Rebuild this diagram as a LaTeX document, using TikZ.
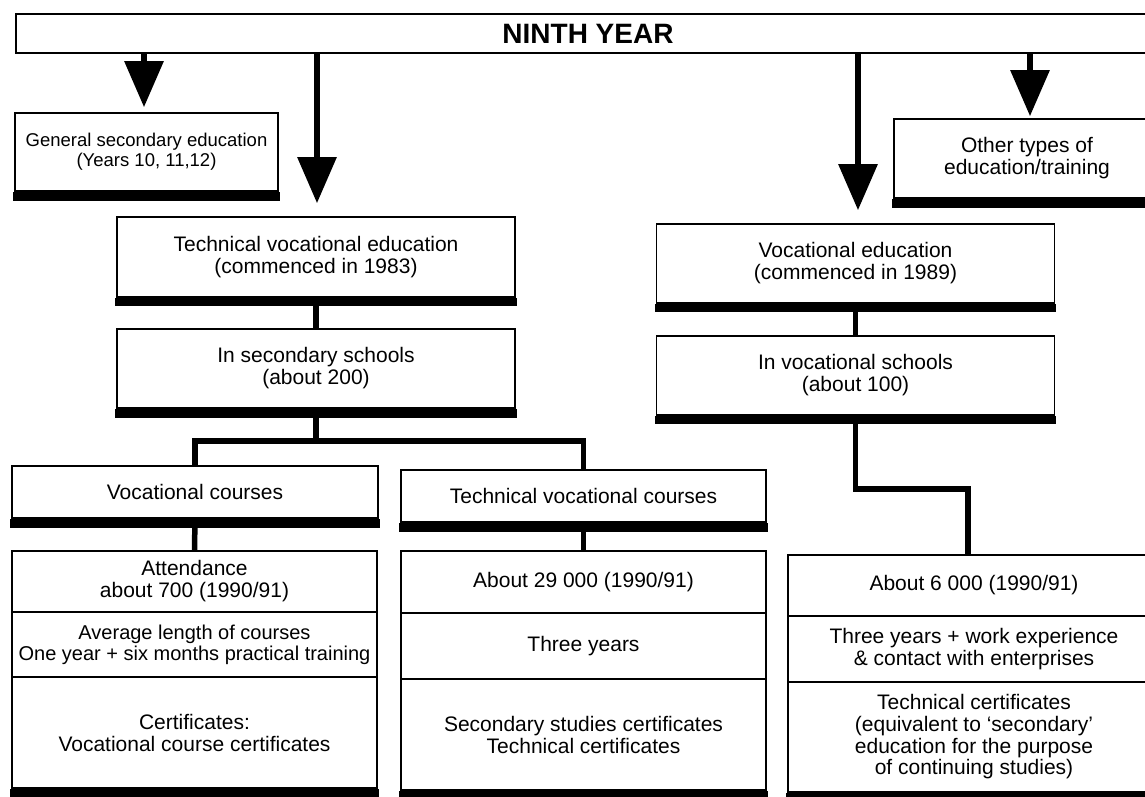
\documentclass[tikz,border=0pt]{standalone}
\usepackage{fontspec}
\setmainfont{Liberation Sans}
\usetikzlibrary{arrows.meta}
\newcommand\bandunder[2][9]{\fill ([xshift=-0.8pt]#2.south west) rectangle ([xshift=0.8pt,yshift=-#1pt]#2.south east);}
\begin{document}
\begin{tikzpicture}[x=1pt,y=-1pt,
  box/.style={draw, line width=1.6pt, inner sep=0pt, align=center,
    font=\fontsize{21}{22}\selectfont},
  conn/.style={line width=5.5pt},
  bigarrow/.style={line width=6pt, -{Triangle[width=38pt,length=46pt]}}]
\useasboundingbox (0,0) rectangle (1145,797);
\clip (0,0) rectangle (1145,797);
\fill[white] (0,0) rectangle (1145,797);

% top bar
\node[box, minimum width=1144pt, minimum height=39pt,
  font=\bfseries\fontsize{28}{30}\selectfont] (top) at (588,33.5) {NINTH YEAR};

% second level
\node[box, minimum width=263pt, minimum height=78pt,
  font=\fontsize{18.5}{20}\selectfont] (gen) at (146.5,152)
  {General secondary education\\(Years 10, 11,12)};
\node[box, minimum width=266pt, minimum height=79pt] (oth) at (1027,158.5)
  {Other types of\\education/training};

% left branch
\node[box, minimum width=398pt, minimum height=80pt] (tv) at (316,257)
  {Technical vocational education\\(commenced in 1983)};
\node[box, minimum width=398pt, minimum height=79pt] (ss) at (316,368.5)
  {In secondary schools\\(about 200)};
\node[box, minimum width=366pt, minimum height=52pt] (vc) at (195,492)
  {Vocational courses};
\node[box, minimum width=365pt, minimum height=52pt] (tc) at (583.5,496)
  {Technical vocational courses};

% left stack
\node[box, minimum width=365pt, minimum height=61pt] (at1) at (194.5,581.5)
  {Attendance\\about 700 (1990/91)};
\node[box, minimum width=365pt, minimum height=65pt,
  font=\fontsize{20}{21}\selectfont] (at2) at (194.5,644.5)
  {Average length of courses\\One year + six months practical training};
\node[box, minimum width=365pt, minimum height=111pt] (at3) at (194.5,732.5)
  {Certificates:\\Vocational course certificates};

% middle stack
\node[box, minimum width=365pt, minimum height=62pt] (ts1) at (583.5,582)
  {About 29 000 (1990/91)};
\node[box, minimum width=365pt, minimum height=66pt] (ts2) at (583.5,646)
  {Three years};
\node[box, minimum width=365pt, minimum height=111pt] (ts3) at (583.5,734.5)
  {Secondary studies certificates\\Technical certificates};

% right branch
\node[box, minimum width=398pt, minimum height=79pt] (ve) at (855.5,263.5)
  {Vocational education\\(commenced in 1989)};
\node[box, minimum width=398pt, minimum height=79pt] (vs) at (855.5,375.5)
  {In vocational schools\\(about 100)};

% right stack
\node[box, minimum width=372pt, minimum height=61pt] (rs1) at (974,585.5)
  {About 6 000 (1990/91)};
\node[box, minimum width=372pt, minimum height=66pt] (rs2) at (974,649)
  {Three years + work experience\\\& contact with enterprises};
\node[box, minimum width=372pt, minimum height=110pt,
  baseline=0pt, font=\fontsize{21}{21.7}\selectfont] (rs3) at (974,737)
  {Technical certificates\\(equivalent to ‘secondary’\\education for the purpose\\of continuing studies)};

% thick bottom bands
\bandunder{gen}
\bandunder{oth}
\bandunder[8]{tv}
\bandunder[9]{ss}
\bandunder[9]{vc}
\bandunder[9]{tc}
\bandunder[8]{at3}
\bandunder[7]{ts3}
\bandunder[8]{ve}
\bandunder[8]{vs}
\bandunder[5]{rs3}

% arrows from the top bar
\coordinate (a1) at (144,0);
\coordinate (a2) at (317,0);
\coordinate (a3) at (858,0);
\coordinate (a4) at (1030,0);
\draw[bigarrow] (top.south -| a1) -- ([yshift=5pt]gen.north -| a1);
\draw[bigarrow] (top.south -| a2) -- ([yshift=13pt]tv.north -| a2);
\draw[bigarrow] (top.south -| a3) -- ([yshift=13pt]ve.north -| a3);
\draw[bigarrow] (top.south -| a4) -- ([yshift=2pt]oth.north -| a4);

% connectors
\coordinate (split) at (316,441);
\coordinate (bend) at (855.5,489);
\draw[conn] (tv.south) -- (ss.north);
\draw[conn] (ss.south) -- (split);
\draw[conn] (vc.north) |- (split) -| (tc.north);
\draw[conn] (vc.south) -- (at1.north);
\draw[conn] (tc.south) -- (ts1.north);
\draw[conn] (ve.south) -- (vs.north);
\draw[conn] (vs.south) -- (bend) -| ([xshift=-6pt]rs1.north);
\end{tikzpicture}
\end{document}
